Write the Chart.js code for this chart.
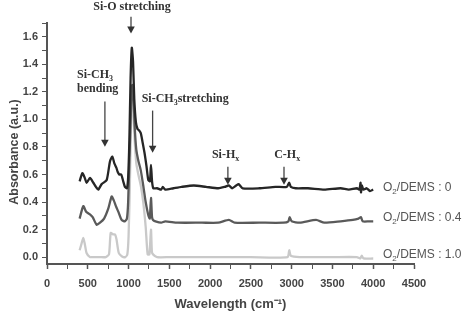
<!DOCTYPE html>
<html>
<head>
<meta charset="utf-8">
<script src="https://cdn.jsdelivr.net/npm/chart.js@4/dist/chart.umd.min.js"></script>
<style>
html,body{margin:0;padding:0;background:#fff;}
#wrap{width:465px;height:313px;position:relative;}
</style>
</head>
<body>
<div id="wrap"><canvas id="c" width="465" height="313"></canvas></div>
<script>
// ---- data ----
const seriesNames = ['O2/DEMS : 0', 'O2/DEMS : 0.4', 'O2/DEMS : 1.0'];
const ratioLabels = ['0', '0.4', '1.0'];

const wn0 = [400,433,460,486,527,568,600,629,670,732,772,801,826,850,866,886,910,935,956,980,995,1010,1025,1040,1055,1070,1090,1110,1130,1150,1170,1195,1220,1242,1262,1275,1288,1303,1350,1400,1420,1450,1550,1650,1800,1950,2100,2180,2230,2270,2320,2350,2400,2600,2800,2940,2970,2990,3050,3200,3400,3600,3700,3800,3830,3845,3850,3860,3880,3920,3960,4000];
const abs0 = [0.55,0.61,0.58,0.54,0.575,0.54,0.51,0.49,0.53,0.56,0.695,0.73,0.68,0.65,0.62,0.60,0.60,0.55,0.51,0.50,0.58,0.85,1.30,1.52,1.42,1.15,0.98,0.93,0.92,0.90,0.84,0.76,0.66,0.56,0.55,0.67,0.55,0.50,0.50,0.49,0.51,0.49,0.50,0.51,0.52,0.51,0.50,0.51,0.52,0.50,0.52,0.53,0.50,0.50,0.51,0.51,0.54,0.51,0.50,0.50,0.49,0.50,0.49,0.50,0.49,0.54,0.47,0.52,0.49,0.50,0.48,0.49];

const wn1 = [400,445,480,527,560,609,650,700,750,793,820,845,874,915,955,980,995,1015,1035,1045,1060,1075,1095,1120,1150,1180,1210,1240,1260,1275,1288,1300,1330,1400,1450,1600,1900,2100,2230,2300,2600,2900,2960,2975,3000,3100,3300,3400,3600,3750,3820,3850,3870,3950,4000];
const abs1 = [0.28,0.37,0.33,0.31,0.29,0.235,0.25,0.28,0.35,0.44,0.41,0.37,0.33,0.27,0.26,0.28,0.40,0.80,1.15,1.25,1.18,0.95,0.78,0.70,0.63,0.52,0.40,0.31,0.28,0.43,0.29,0.27,0.26,0.25,0.26,0.25,0.25,0.25,0.27,0.25,0.25,0.25,0.26,0.29,0.26,0.25,0.27,0.25,0.26,0.27,0.28,0.29,0.26,0.26,0.26];

const wn2 = [400,420,445,465,485,527,560,650,720,760,781,810,834,852,880,920,960,985,1000,1015,1030,1045,1060,1075,1095,1120,1150,1180,1210,1234,1256,1275,1286,1300,1350,1500,2000,2500,2950,2970,2990,3100,3500,3800,3840,3860,3880,4000];
const abs2 = [0.05,0.09,0.14,0.09,0.03,0.00,0.00,0.00,0.00,0.02,0.175,0.165,0.165,0.13,0.03,0.005,0.00,0.02,0.15,0.50,0.95,1.15,1.05,0.85,0.68,0.60,0.52,0.40,0.22,0.02,0.02,0.20,0.04,0.02,0.00,0.00,0.00,0.00,0.00,0.05,0.01,0.00,0.00,0.00,-0.01,0.01,-0.01,-0.01];

const xTickLabels = [0,500,1000,1500,2000,2500,3000,3500,4000,4500];
const yTickLabels = [0.0,0.2,0.4,0.6,0.8,1.0,1.2,1.4,1.6];

// annotation anchors (data units)
const annoArrows = [
  {x:1030, y0:1.746, y1:1.624},
  {x:710,  y0:1.13,  y1:0.802},
  {x:1295, y0:1.064, y1:0.758},
  {x:2218, y0:0.657, y1:0.525},
  {x:2906, y0:0.657, y1:0.525}
];

// ---- build ----
const toPts = (xs, ys) => xs.map((x, i) => ({x: x, y: ys[i]}));
const colors = ['#262626', '#5a5a5a', '#c9c9c9'];

function drawRich(ctx, parts, x, y, align, font, subFont, supShift) {
  let w = 0;
  parts.forEach(p => { ctx.font = p.sub ? subFont : font; p.w = ctx.measureText(p.t).width; w += p.w; });
  let cx = align === 'center' ? x - w / 2 : x;
  ctx.textAlign = 'left';
  ctx.textBaseline = 'middle';
  parts.forEach(p => {
    ctx.font = p.sub ? subFont : font;
    ctx.fillText(p.t, cx, p.sub ? y + 4 : y);
    cx += p.w;
  });
}

const annoPlugin = {
  id: 'anno',
  afterDatasetsDraw(chart) {
    const ctx = chart.ctx;
    const xs = chart.scales.x, ys = chart.scales.y;
    ctx.save();
    // arrows
    ctx.strokeStyle = '#444'; ctx.fillStyle = '#333'; ctx.lineWidth = 1.3;
    annoArrows.forEach(a => {
      const px = xs.getPixelForValue(a.x);
      const p0 = ys.getPixelForValue(a.y0), p1 = ys.getPixelForValue(a.y1);
      ctx.beginPath(); ctx.moveTo(px, p0); ctx.lineTo(px, p1 - 6); ctx.stroke();
      ctx.beginPath(); ctx.moveTo(px - 3.8, p1 - 7); ctx.lineTo(px + 3.8, p1 - 7); ctx.lineTo(px, p1); ctx.closePath(); ctx.fill();
    });
    // annotation texts
    const sf = 'bold 12px "Liberation Serif", "DejaVu Serif", serif';
    const ssf = 'bold 8px "Liberation Serif", "DejaVu Serif", serif';
    ctx.fillStyle = '#333';
    drawRich(ctx, [{t:'Si-O stretching'}], xs.getPixelForValue(1042), ys.getPixelForValue(1.82), 'center', sf, ssf);
    drawRich(ctx, [{t:'Si-CH'},{t:'3',sub:true}], xs.getPixelForValue(368), ys.getPixelForValue(1.325), 'left', sf, ssf);
    drawRich(ctx, [{t:'bending'}], xs.getPixelForValue(368), ys.getPixelForValue(1.222), 'left', sf, ssf);
    drawRich(ctx, [{t:'Si-CH'},{t:'3',sub:true},{t:'stretching'}], xs.getPixelForValue(1161), ys.getPixelForValue(1.15), 'left', sf, ssf);
    drawRich(ctx, [{t:'Si-H'},{t:'x',sub:true}], xs.getPixelForValue(2190), ys.getPixelForValue(0.744), 'center', sf, ssf);
    drawRich(ctx, [{t:'C-H'},{t:'x',sub:true}], xs.getPixelForValue(2945), ys.getPixelForValue(0.744), 'center', sf, ssf);
    // series labels
    const lf = '12px "Liberation Sans", Arial, sans-serif';
    const lsf = '8px "Liberation Sans", Arial, sans-serif';
    ctx.fillStyle = '#555';
    const labelY = [0.504, 0.286, 0.017];
    ratioLabels.forEach((r, i) => {
      drawRich(ctx, [{t:'O'},{t:'2',sub:true},{t:'/DEMS : ' + r}], xs.getPixelForValue(4120), ys.getPixelForValue(labelY[i]), 'left', lf, lsf);
    });
    // y axis title
    ctx.save();
    ctx.translate(15, 152);
    ctx.rotate(-Math.PI / 2);
    ctx.font = 'bold 12.5px "Liberation Sans", Arial, sans-serif';
    ctx.fillStyle = '#444';
    ctx.textAlign = 'center'; ctx.textBaseline = 'middle';
    ctx.fillText('Absorbance (a.u.)', 0, 0);
    ctx.restore();
    ctx.restore();
  }
};

const datasets = [
  {label: seriesNames[0], data: toPts(wn0, abs0), borderColor: colors[0], borderWidth: 2.3},
  {label: seriesNames[1], data: toPts(wn1, abs1), borderColor: colors[1], borderWidth: 2.3},
  {label: seriesNames[2], data: toPts(wn2, abs2), borderColor: colors[2], borderWidth: 2.3}
].map(d => Object.assign(d, {pointRadius: 0, tension: 0.2, fill: false}));

const tickFont = {family: '"Liberation Sans", Arial, sans-serif', size: 11, weight: 'bold'};

new Chart(document.getElementById('c'), {
  type: 'line',
  data: {datasets: datasets},
  options: {
    responsive: false,
    animation: false,
    layout: {padding: {left: 0, right: 51, top: 23, bottom: 0}},
    plugins: {legend: {display: false}, tooltip: {enabled: false}},
    scales: {
      x: {
        type: 'linear', min: 0, max: 4500,
        afterFit: s => { s.height = 49; },
        afterBuildTicks: s => {
          const t = [];
          for (let v = 0; v <= 4500; v += 250) t.push({value: v});
          s.ticks = t;
        },
        ticks: {
          font: tickFont, color: '#444', padding: 8, maxRotation: 0, autoSkip: false,
          callback: v => xTickLabels.includes(v) ? String(v) : ''
        },
        grid: {drawOnChartArea: false, tickLength: 5, color: '#555', tickColor: '#555',
               tickWidth: c => (c.tick && c.tick.value % 500 === 0) ? 1.5 : 1},
        border: {color: '#555', width: 2},
        title: {display: true, text: 'Wavelength (cm⁻¹)', color: '#444',
                font: {family: '"Liberation Sans", Arial, sans-serif', size: 13, weight: 'bold'},
                padding: {top: 0, bottom: 1}}
      },
      y: {
        type: 'linear', min: -0.05, max: 1.7,
        afterFit: s => { s.width = 47; },
        afterBuildTicks: s => {
          const t = [];
          for (let k = 0; k <= 17; k++) t.push({value: k / 10});
          s.ticks = t;
        },
        ticks: {
          font: tickFont, color: '#444', padding: 4, autoSkip: false,
          callback: v => {
            const r = Math.round(v * 10) / 10;
            return yTickLabels.some(l => Math.abs(l - r) < 1e-6) ? r.toFixed(1) : '';
          }
        },
        grid: {drawOnChartArea: false, tickLength: 5, color: '#555', tickColor: '#555'},
        border: {color: '#555', width: 2}
      }
    }
  },
  plugins: [annoPlugin]
});
</script>
</body>
</html>
